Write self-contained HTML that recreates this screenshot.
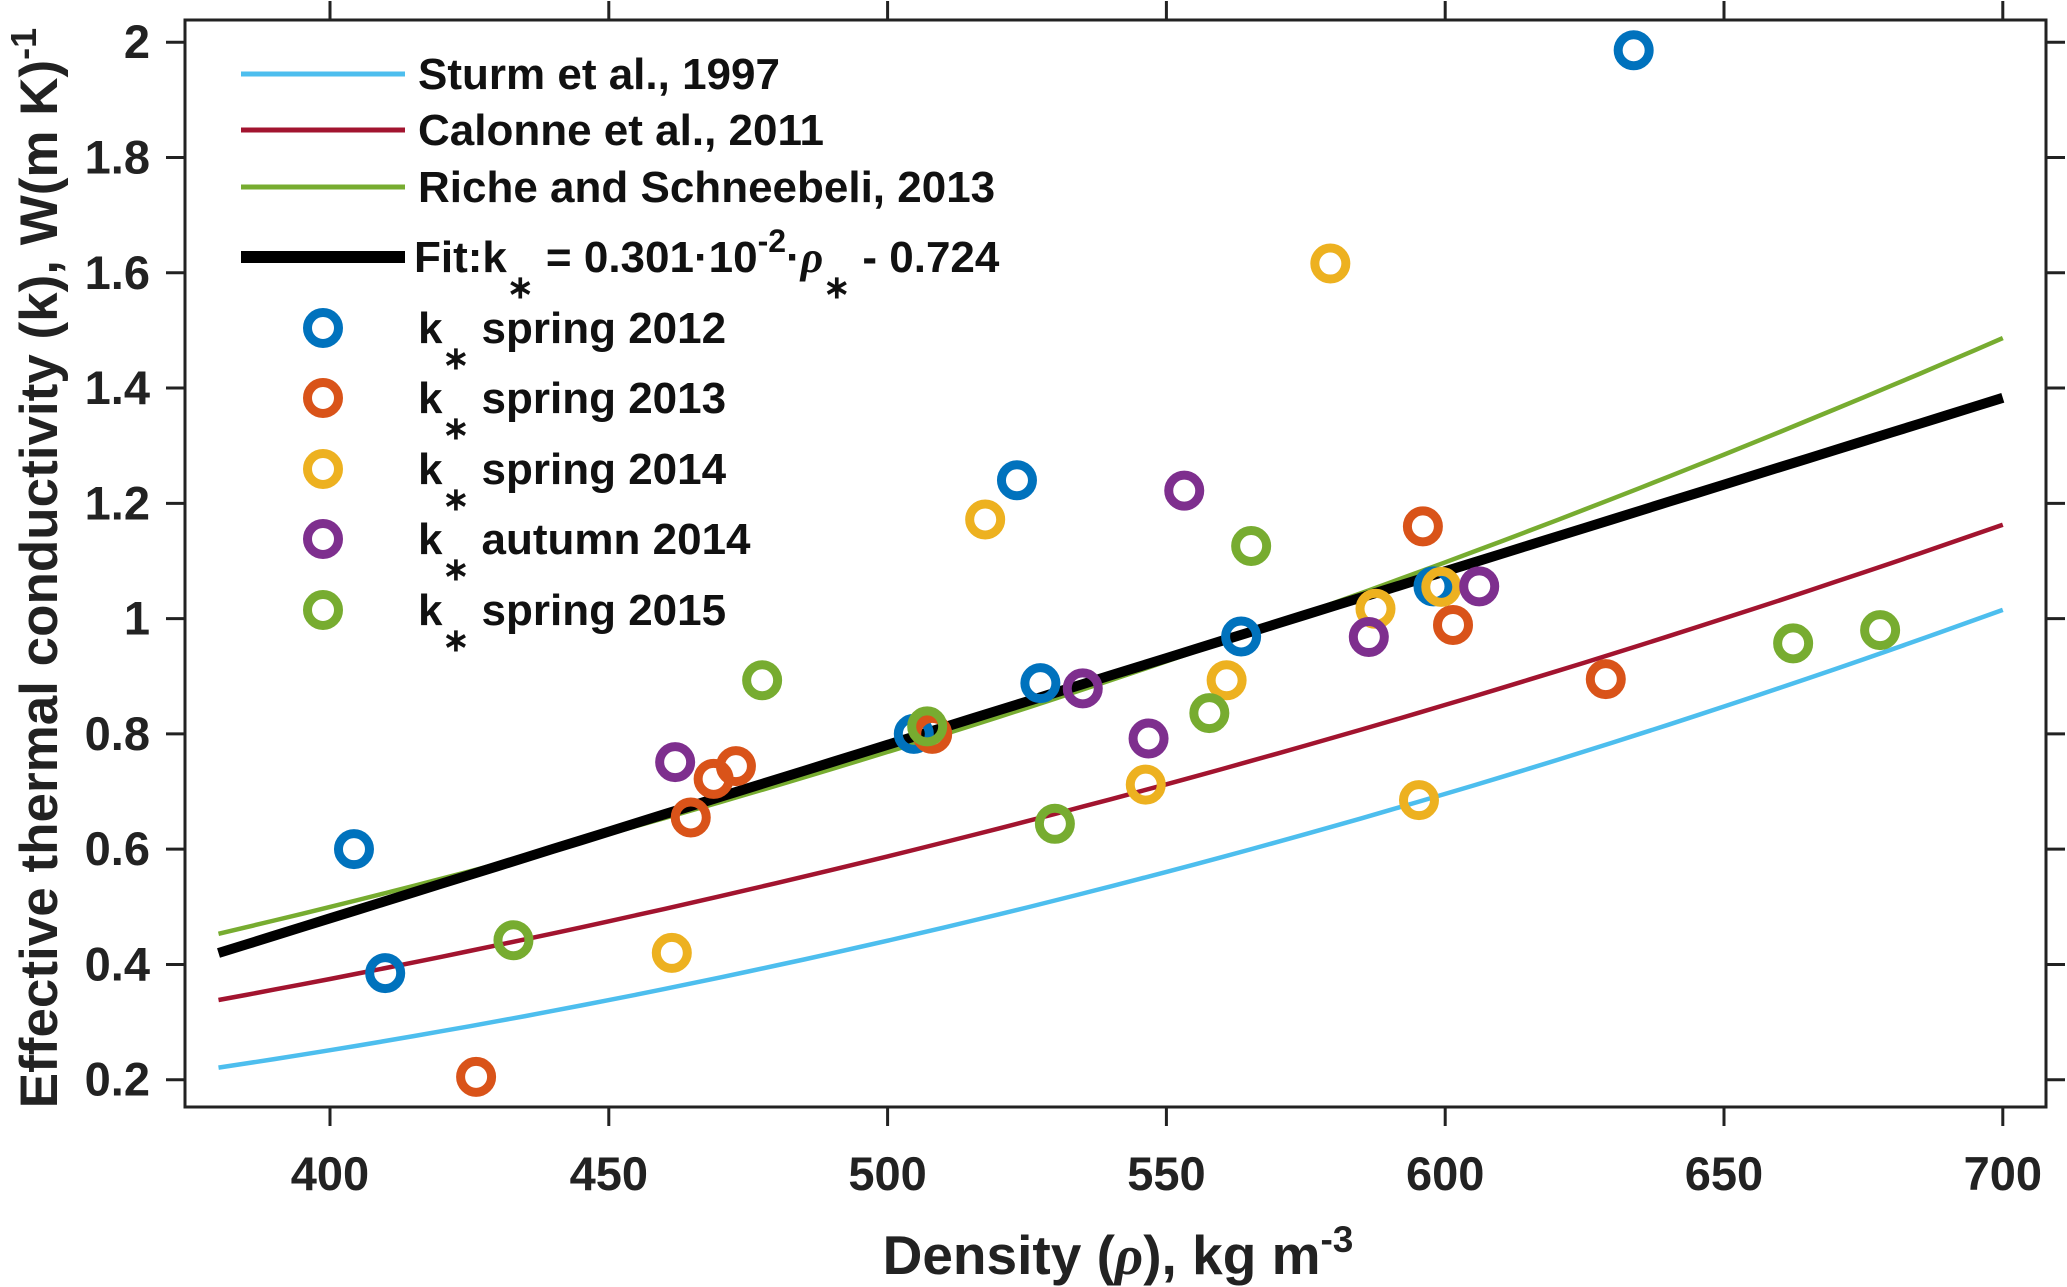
<!DOCTYPE html>
<html><head><meta charset="utf-8"><style>
html,body{margin:0;padding:0;background:#fff}
svg{display:block;font-family:"Liberation Sans",sans-serif;font-weight:bold}
</style></head><body>
<svg id="chart" width="2067" height="1287" viewBox="0 0 2067 1287">
<g id="axes"></g>
<g id="curves"></g>
<g id="points"></g>
<g id="legend"></g>
<text transform="translate(57,568) rotate(-90)" text-anchor="middle" font-size="53" fill="#222">Effective thermal conductivity (k), W(m K)<tspan dy="-21" font-size="36">-1</tspan></text>
<text x="1118" y="1274" text-anchor="middle" font-size="55" fill="#222">Density (<tspan font-style="italic" font-family="Liberation Serif">ρ</tspan>), kg m<tspan dy="-22" font-size="37">-3</tspan></text>
</svg>
<script>
const xTicks=[400,450,500,550,600,650,700];
const yTicks=[0.2,0.4,0.6,0.8,1,1.2,1.4,1.6,1.8,2];
const yTickLabels=["0.2","0.4","0.6","0.8","1","1.2","1.4","1.6","1.8","2"];
const seriesNames=["spring 2012","spring 2013","spring 2014","autumn 2014","spring 2015"];
const seriesColors=["#0072BD","#D95319","#EDB120","#7E2F8E","#77AC30"];
const s2012x=[404.3,409.9,504.7,523.2,527.4,563.4,633.8,597.9];
const s2012y=[0.60,0.385,0.80,1.24,0.888,0.969,1.986,1.056];
const s2013x=[426.2,464.7,468.8,472.8,508,596,601.4,628.8];
const s2013y=[0.205,0.655,0.722,0.744,0.80,1.16,0.989,0.895];
const s2014x=[461.3,517.5,546.3,560.8,579.4,587.5,595.3,599.3];
const s2014y=[0.42,1.172,0.712,0.893,1.616,1.017,0.685,1.055];
const a2014x=[461.9,535,546.8,553.2,586.3,606.1];
const a2014y=[0.751,0.879,0.792,1.222,0.968,1.056];
const s2015x=[432.9,477.5,507.1,530,557.7,565.2,662.4,678];
const s2015y=[0.442,0.893,0.813,0.644,0.836,1.126,0.957,0.98];
const sturmCoef=[0.138,-1.01,3.233];      // rho in g/cm3
const calonneCoef=[0.024,-1.23e-4,2.5e-6]; // rho in kg/m3
const richeCoef=[0.024,-1.06e-5,3e-6];
const fitCoef=[-0.724,0.00301];
const curveRange=[380,700];

const NS="http://www.w3.org/2000/svg";
const L=185,R=2046,T=20,B=1107;
const X=v=>330+(v-400)*5.576;
const Y=v=>42.2+(2-v)*576.4;
function el(tag,attrs,parent){const e=document.createElementNS(NS,tag);for(const k in attrs)e.setAttribute(k,attrs[k]);parent.appendChild(e);return e;}
const axes=document.getElementById('axes');
const box=el('rect',{x:L,y:T,width:R-L,height:B-T,fill:'none',stroke:'#222','stroke-width':3},axes);


xTicks.forEach(t=>{
  const x=X(t);
  const a=el('line',{x1:x,x2:x,y1:B,y2:B+19,stroke:'#222','stroke-width':3},axes);
  
  
  const b=el('line',{x1:x,x2:x,y1:T,y2:T-19,stroke:'#222','stroke-width':3},axes);
  
  
  const tx=el('text',{x:x,y:1190,'text-anchor':'middle','font-size':47,fill:'#222'},axes);
  tx.textContent=t;
  
  
});
yTicks.forEach((t,i)=>{
  const y=Y(t);
  const a=el('line',{x1:L,x2:L-19,y1:y,y2:y,stroke:'#222','stroke-width':3},axes);
  
  
  const b=el('line',{x1:R,x2:R+19,y1:y,y2:y,stroke:'#222','stroke-width':3},axes);
  
  
  const tx=el('text',{x:150,y:y+16,'text-anchor':'end','font-size':47,fill:'#222'},axes);
  tx.textContent=yTickLabels[i];
  
  
});
const curves=document.getElementById('curves');
function curve(f,color,w,name){
  let d='';
  for(let r=curveRange[0];r<=curveRange[1];r+=5){d+=(d?'L':'M')+X(r).toFixed(1)+','+Y(f(r)).toFixed(1);}
  const p=el('path',{d:d,fill:'none',stroke:color,'stroke-width':w},curves);
  
  
}
curve(r=>{const g=r/1000;return sturmCoef[0]+sturmCoef[1]*g+sturmCoef[2]*g*g;},'#4DBEEE',4.5,'sturm-1997-curve');
curve(r=>calonneCoef[0]+calonneCoef[1]*r+calonneCoef[2]*r*r,'#A2142F',4.5,'calonne-2011-curve');
curve(r=>richeCoef[0]+richeCoef[1]*r+richeCoef[2]*r*r,'#77AC30',4.5,'riche-2013-curve');
curve(r=>fitCoef[0]+fitCoef[1]*r,'#000',10,'fit-line');
const pts=document.getElementById('points');
const allX=[s2012x,s2013x,s2014x,a2014x,s2015x], allY=[s2012y,s2013y,s2014y,a2014y,s2015y];
allX.forEach((xs,si)=>{
  xs.forEach((xv,i)=>{
    const c=el('circle',{cx:X(xv),cy:Y(allY[si][i]),r:15.5,fill:'none',stroke:seriesColors[si],'stroke-width':9},pts);
    
    
  });
});
const lg=document.getElementById('legend');
const lineItems=[["Sturm et al., 1997","#4DBEEE",5,74],["Calonne et al., 2011","#A2142F",5,130],["Riche and Schneebeli, 2013","#77AC30",5,187]];
lineItems.forEach(it=>{
  const l=el('line',{x1:241,x2:405,y1:it[3],y2:it[3],stroke:it[1],'stroke-width':it[2]},lg);
  
  
  const t=el('text',{x:418,y:it[3]+15,'font-size':44,fill:'#111'},lg);
  t.textContent=it[0];
  
  
});
const fl=el('line',{x1:241,x2:405,y1:257,y2:257,stroke:'#000','stroke-width':12},lg);


const ft=el('text',{x:414,y:272,'font-size':44,fill:'#111'},lg);
ft.innerHTML='Fit:k<tspan dy="26" font-size="32">∗</tspan><tspan dy="-26"> = 0.301·10</tspan><tspan dy="-20" font-size="32">-2</tspan><tspan dy="20">·</tspan><tspan font-family="Liberation Serif" font-style="italic">ρ</tspan><tspan dy="26" font-size="32">∗</tspan><tspan dy="-26"> - 0.724</tspan>';


const my=[328,398,469,539,610];
seriesNames.forEach((n,i)=>{
  const c=el('circle',{cx:323,cy:my[i],r:15.5,fill:'none',stroke:seriesColors[i],'stroke-width':9},lg);
  
  
  const t=el('text',{x:418,y:my[i]+15,'font-size':44,fill:'#111'},lg);
  t.innerHTML='k<tspan dy="26" font-size="32">∗</tspan><tspan dy="-26"> '+n+'</tspan>';
  
  
});
</script>
</body></html>
